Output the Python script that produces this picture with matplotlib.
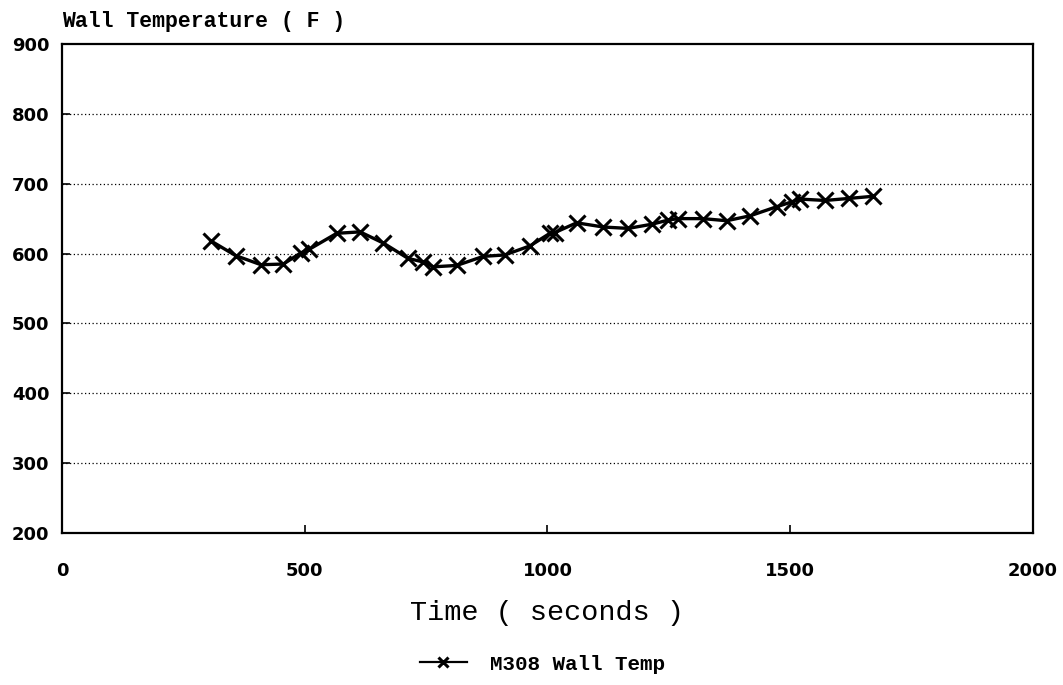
import numpy as np
import matplotlib
matplotlib.use("Agg")
import matplotlib.pyplot as plt

# time (s) and wall temperature (F)
time_s = [307, 358, 410, 456, 492, 509, 566, 614, 662, 713, 744, 765, 813,
          868, 912, 964, 1005, 1015, 1060, 1115, 1166, 1215, 1249, 1269,
          1320, 1369, 1417, 1472, 1503, 1520, 1572, 1622, 1671]
wall_temp = [618, 597, 584, 585, 601, 606, 629, 631, 615, 593, 588, 581, 583,
             596, 598, 611, 629, 630, 644, 638, 636, 642, 648, 650,
             650, 647, 654, 667, 674, 678, 676, 679, 682]

x_ticks = [0, 500, 1000, 1500, 2000]
y_ticks = [200, 300, 400, 500, 600, 700, 800, 900]

fig = plt.figure(figsize=(10.63, 6.85), dpi=100)
ax = fig.add_axes([0.0583, 0.2219, 0.9135, 0.7139])

ax.plot(time_s, wall_temp, color="black", lw=2.4, marker="x", ms=11, mew=2.2,
        label="M308 Wall Temp")

ax.set_xlim(0, 2000)
ax.set_ylim(200, 900)
ax.set_xticks(x_ticks)
ax.set_yticks(y_ticks)
for y in y_ticks[1:-1]:
    ax.axhline(y, color="black", lw=0.9, ls=(0, (1, 2)), zorder=0)

tick_font = dict(family="DejaVu Sans", weight="bold", size=13)
ax.set_xticklabels([str(v) for v in x_ticks], fontdict=tick_font)
ax.set_yticklabels([str(v) for v in y_ticks], fontdict=tick_font)
ax.tick_params(direction="in", length=6, width=1.2)
ax.tick_params(axis="x", pad=21)
ax.tick_params(axis="y", pad=9)
for s in ax.spines.values():
    s.set_linewidth(1.6)

ax.set_xlabel("Time ( seconds )", family="Liberation Mono", size=20.5,
              labelpad=14)
fig.text(0.0583, 0.968, "Wall Temperature ( F )", family="Liberation Mono",
         weight="bold", size=15.5, ha="left", va="center")

leg = fig.legend(loc="center left", bbox_to_anchor=(420 / 1063, 1 - 664 / 685),
                 frameon=False, borderaxespad=0, borderpad=0,
                 prop=dict(family="Liberation Mono", weight="bold", size=15),
                 handlelength=2.25, handletextpad=1.1, markerscale=0.6)
for h in leg.legend_handles:
    h.set_linewidth(1.6)

fig.savefig("out.png", dpi=100)
